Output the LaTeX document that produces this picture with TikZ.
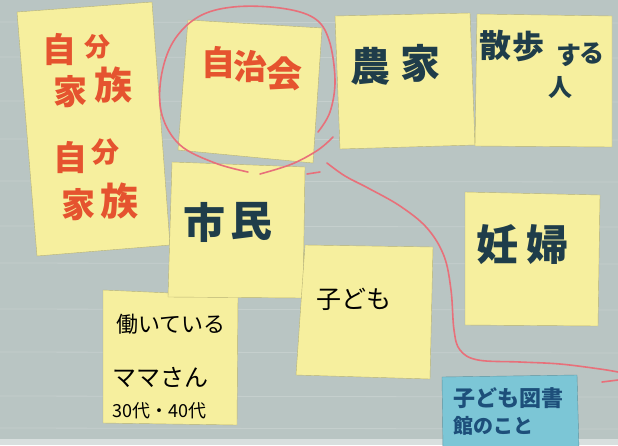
\documentclass[tikz,border=0pt]{standalone}
\usepackage{fontspec}
\newfontfamily\cjk{Noto Sans CJK JP}
\definecolor{bg}{HTML}{B9C5C3}
\definecolor{note}{HTML}{F6EF9E}
\definecolor{bluenote}{HTML}{7CC6D6}
\definecolor{redpen}{HTML}{E5532F}
\definecolor{darkpen}{HTML}{1F3D4A}
\definecolor{bluepen}{HTML}{1D4F7A}
\definecolor{pinkline}{HTML}{E8707A}
\tikzset{
  sticky/.style={fill=note, draw=note!75!black, line width=0.4pt},
  bluesticky/.style={fill=bluenote, draw=bluenote!75!black, line width=0.4pt},
  marker/.style={inner sep=0pt, font=\cjk\bfseries},
  pen/.style={inner sep=0pt, font=\cjk},
  redline/.style={draw=pinkline, line width=1.6pt, line cap=round, line join=round},
}
\begin{document}
\begin{tikzpicture}[x=1pt,y=-1pt]
\useasboundingbox (0,0) rectangle (618,445);
\clip (0,0) rectangle (618,445);
% background
\fill[bg] (0,0) rectangle (618,445);
\foreach \yy in {22,57,101,139,181,226,263,309,352,396,428}
  \draw[white, opacity=0.18, line width=0.8pt] (0,\yy) -- (618,\yy+1);
\fill[bg!55!white] (0,439) rectangle (618,445);
% sticky notes
\path[sticky] (17,12) -- (152,2) -- (170,245) -- (37,256) -- cycle; % 自分家族
\path[sticky] (103,290) -- (238,296) -- (237,425) -- (103,423) -- cycle; % 働いている
\path[sticky] (188,20) -- (322,28) -- (313,163) -- (178,150) -- cycle; % 自治会
\path[sticky] (172,162) -- (305,167) -- (303,298) -- (168,297) -- cycle; % 市民
\path[sticky] (335,16) -- (470,13) -- (475,145) -- (340,149) -- cycle; % 農家
\path[sticky] (477,14) -- (612,16) -- (612,147) -- (475,146) -- cycle; % 散歩する人
\path[sticky] (465,192) -- (600,195) -- (598,326) -- (465,325) -- cycle; % 妊婦
\path[sticky] (305,245) -- (433,247) -- (430,379) -- (296,375) -- cycle; % 子ども
\path[bluesticky] (442,377) -- (577,375) -- (579,450) -- (443,450) -- cycle; % blue
% 自分家族 (1)
\node[marker, text=redpen, font=\cjk\bfseries\fontsize{34}{34}\selectfont] (a1) at (59,50) {自};
\node[marker, text=redpen, font=\cjk\bfseries\fontsize{26}{26}\selectfont] (a2) at (97,47) {分};
\node[marker, text=redpen, font=\cjk\bfseries\fontsize{34}{34}\selectfont] (a3) at (70,92) {家};
\node[marker, text=redpen, font=\cjk\bfseries\fontsize{38}{38}\selectfont] (a4) at (113,85) {族};
% 自分家族 (2)
\node[marker, text=redpen, font=\cjk\bfseries\fontsize{34}{34}\selectfont] (b1) at (70,158) {自};
\node[marker, text=redpen, font=\cjk\bfseries\fontsize{28}{28}\selectfont] (b2) at (105,152) {分};
\node[marker, text=redpen, font=\cjk\bfseries\fontsize{34}{34}\selectfont] (b3) at (78,205) {家};
\node[marker, text=redpen, font=\cjk\bfseries\fontsize{38}{38}\selectfont] (b4) at (119,201) {族};
% 自治会
\node[marker, text=redpen, font=\cjk\bfseries\fontsize{34}{34}\selectfont] (c1) at (218,63) {自};
\node[marker, text=redpen, font=\cjk\bfseries\fontsize{34}{34}\selectfont] (c2) at (250,67) {治};
\node[marker, text=redpen, font=\cjk\bfseries\fontsize{36}{36}\selectfont] (c3) at (284,74) {会};
% 市民
\node[marker, text=darkpen, font=\cjk\bfseries\fontsize{42}{42}\selectfont] (d1) at (204,222) {市};
\node[marker, text=darkpen, font=\cjk\bfseries\fontsize{42}{42}\selectfont] (d2) at (251,221) {民};
% 農家
\node[marker, text=darkpen, font=\cjk\bfseries\fontsize{40}{40}\selectfont] (e1) at (370,66) {農};
\node[marker, text=darkpen, font=\cjk\bfseries\fontsize{40}{40}\selectfont] (e2) at (420,63) {家};
% 散歩する人
\node[marker, text=darkpen, font=\cjk\bfseries\fontsize{32}{32}\selectfont] (f1) at (495,45) {散};
\node[marker, text=darkpen, font=\cjk\bfseries\fontsize{32}{32}\selectfont] (f2) at (528,46) {歩};
\node[marker, text=darkpen, font=\cjk\bfseries\fontsize{25}{25}\selectfont] (f3) at (569,55) {す};
\node[marker, text=darkpen, font=\cjk\bfseries\fontsize{25}{25}\selectfont] (f4) at (592,53) {る};
\node[marker, text=darkpen, font=\cjk\bfseries\fontsize{24}{24}\selectfont] (f5) at (560,88) {人};
% 妊婦
\node[marker, text=darkpen, font=\cjk\bfseries\fontsize{42}{42}\selectfont] (g1) at (497,245) {妊};
\node[marker, text=darkpen, font=\cjk\bfseries\fontsize{42}{42}\selectfont] (g2) at (547,245) {婦};
% 子ども
\node[pen, text=black, font=\cjk\fontsize{25}{25}\selectfont] (h1) at (354,299) {子ども};
% 働いているママさん
\node[pen, text=black, font=\cjk\fontsize{22}{22}\selectfont, anchor=west] (i1) at (116,324) {働いている};
\node[pen, text=black, font=\cjk\fontsize{24}{24}\selectfont, anchor=west] (i2) at (112,377) {ママさん};
\node[pen, text=black, font=\cjk\fontsize{18}{18}\selectfont, anchor=west] (i3) at (112,411) {30代・40代};
% blue note
\node[marker, text=bluepen, font=\cjk\bfseries\fontsize{22}{22}\selectfont, anchor=west] (j1) at (453,398) {子ども図書};
\node[marker, text=bluepen, font=\cjk\bfseries\fontsize{20}{20}\selectfont, anchor=west] (j2) at (453,426) {館のこと};
% red pen lines
\draw[redline] plot[smooth, tension=0.6] coordinates {(248,172) (215,163) (180,145) (162,115) (161,78) (173,42) (198,17) (233,7) (280,8) (314,18) (329,40) (335,80) (330,112) (318,132)};
\draw[redline] plot[smooth, tension=0.6] coordinates {(333,137) (318,150) (292,164) (260,174)};
\draw[redline] (307,174) -- (320,172);
\draw[redline] plot[smooth, tension=0.6] coordinates {(327,163) (345,176) (368,188) (400,206) (427,228) (444,256) (451,290) (454,330) (460,350) (478,360) (520,362) (560,364) (600,369) (618,372)};
\draw[redline] (602,382) -- (618,380);
\end{tikzpicture}
\end{document}
